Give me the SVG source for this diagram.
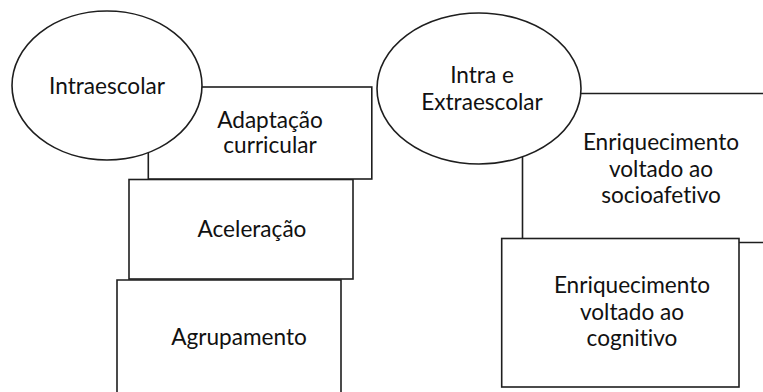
<svg xmlns="http://www.w3.org/2000/svg" width="763" height="392" viewBox="0 0 763 392">
<style>
.s{fill:#fff;stroke:#1e1e1e;stroke-width:1.6}
.l{fill:none;stroke:#1e1e1e;stroke-width:1.6}
text{font-family:Lato,"Open Sans","Liberation Sans",sans-serif;font-size:22.6px;fill:#111;text-anchor:middle;font-variant-ligatures:none;font-feature-settings:"liga" 0,"dlig" 0}
</style>
<rect width="763" height="392" fill="#fff"/>
<g id="agrupamento">
<path class="s" d="M117,393 V280 H341 V393"/>
<text x="239" y="345">Agrupamento</text>
</g>
<g id="aceleracao">
<rect class="s" x="129" y="179.5" width="224" height="99.5"/>
<text x="252" y="237">Aceleração</text>
</g>
<g id="adaptacao">
<rect class="s" x="148.3" y="87" width="223.5" height="92"/>
<text x="270" y="128">Adaptação</text>
<text x="270" y="153">curricular</text>
</g>
<g id="intraescolar">
<ellipse class="s" cx="107" cy="85.5" rx="95" ry="74.5"/>
<text x="107" y="94">Intraescolar</text>
</g>
<g id="socioafetivo">
<path class="s" d="M522.5,93.5 H765 V242.5 H522.5 Z"/>
<text x="661" y="150">Enriquecimento</text>
<text x="661" y="177">voltado ao</text>
<text x="661" y="203">socioafetivo</text>
</g>
<g id="intra-extra">
<ellipse class="s" cx="479" cy="88.5" rx="102" ry="75.5"/>
<text x="482" y="83">Intra e</text>
<text x="482" y="110">Extraescolar</text>
</g>
<g id="cognitivo">
<rect class="s" x="501.7" y="238.5" width="237.3" height="148.5"/>
<text x="632" y="293">Enriquecimento</text>
<text x="632" y="320">voltado ao</text>
<text x="632" y="346">cognitivo</text>
</g>
<g id="connectors"></g>
</svg>
